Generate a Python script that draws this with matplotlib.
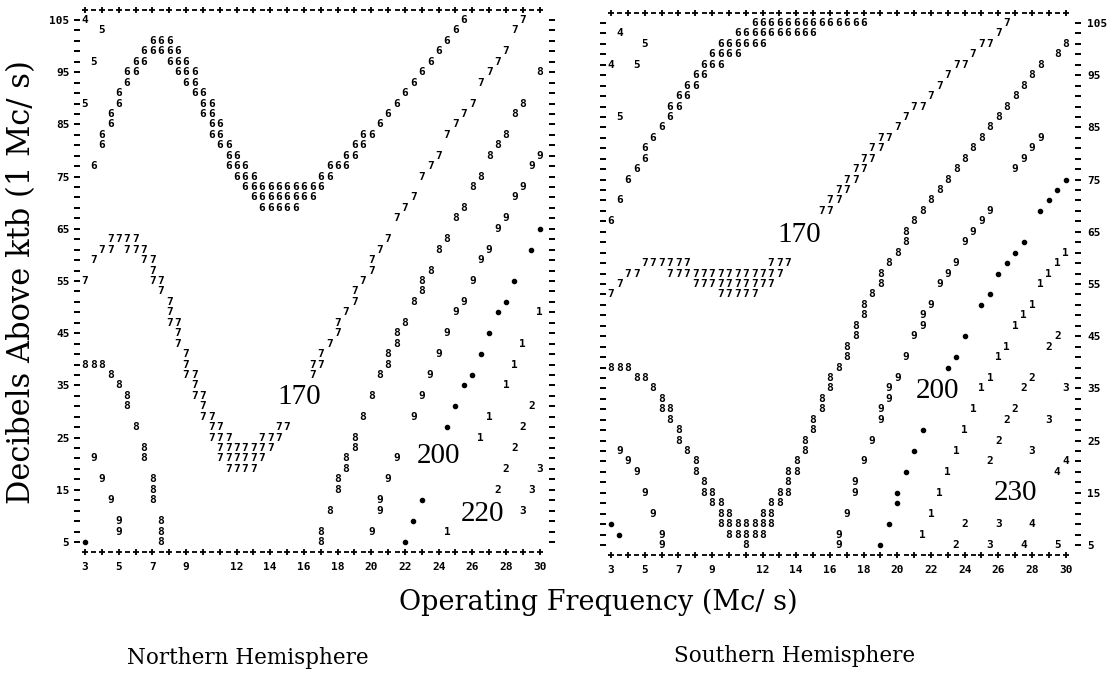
import matplotlib.pyplot as plt

# ---- values: (frequency Mc/s, dB above ktb) ----

# Northern Hemisphere
north_4 = [(3.0, 105)]
north_5 = [(4.0, 103), (3.5, 97), (3.0, 89)]
north_6 = [(3.5, 77), (4.0, 81), (4.0, 83), (4.5, 85), (4.5, 87), (5.0, 89), (5.0, 91),
           (5.5, 93), (5.5, 95), (6.0, 95), (6.0, 97), (6.5, 97),
           (6.5, 99), (7.0, 99), (7.5, 99), (8.0, 99), (8.5, 99), (7.0, 101), (7.5, 101), (8.0, 101),
           (8.0, 97), (8.5, 97), (9.0, 97), (8.5, 95), (9.0, 95), (9.5, 95), (9.0, 93), (9.5, 93),
           (9.5, 91), (10.0, 91), (10.0, 89), (10.5, 89), (10.0, 87), (10.5, 87), (10.5, 85), (11.0, 85),
           (10.5, 83), (11.0, 83), (11.0, 81), (11.5, 81), (11.5, 79), (12.0, 79),
           (11.5, 77), (12.0, 77), (12.5, 77), (12.0, 75), (12.5, 75), (13.0, 75),
           (12.5, 73), (13.0, 73), (13.5, 73), (14.0, 73), (14.5, 73), (15.0, 73), (15.5, 73),
           (16.0, 73), (16.5, 73), (17.0, 73),
           (13.0, 71), (13.5, 71), (14.0, 71), (14.5, 71), (15.0, 71), (15.5, 71), (16.0, 71), (16.5, 71),
           (13.5, 69), (14.0, 69), (14.5, 69), (15.0, 69), (15.5, 69),
           (17.0, 75), (17.5, 75), (17.5, 77), (18.0, 77), (18.5, 77), (18.5, 79), (19.0, 79),
           (19.0, 81), (19.5, 81), (19.5, 83), (20.0, 83), (20.5, 85), (21.0, 87), (21.5, 89),
           (22.0, 91), (22.5, 93), (23.0, 95), (23.5, 97), (24.0, 99), (24.5, 101), (25.0, 103), (25.5, 105)]
north_7 = [(4.5, 63), (5.0, 63), (5.5, 63), (6.0, 63), (4.0, 61), (4.5, 61), (5.5, 61), (6.0, 61),
           (6.5, 61), (3.5, 59), (6.5, 59), (7.0, 59), (7.0, 57), (3.0, 55), (7.0, 55), (7.5, 55),
           (7.5, 53), (8.0, 51), (8.0, 49), (8.0, 47), (8.5, 47), (8.5, 45), (8.5, 43), (9.0, 41),
           (9.0, 39), (9.0, 37), (9.5, 37), (9.5, 35), (9.5, 33), (10.0, 33), (10.0, 31), (10.0, 29),
           (10.5, 29), (10.5, 27), (11.0, 27),
           (10.5, 25), (11.0, 25), (11.5, 25), (13.5, 25), (14.0, 25), (14.5, 25),
           (11.0, 23), (11.5, 23), (12.0, 23), (12.5, 23), (13.0, 23), (13.5, 23), (14.0, 23),
           (11.0, 21), (11.5, 21), (12.0, 21), (12.5, 21), (13.0, 21), (13.5, 21),
           (11.5, 19), (12.0, 19), (12.5, 19), (13.0, 19),
           (14.5, 27), (15.0, 27), (16.5, 37), (16.5, 39), (17.0, 39), (17.0, 41), (17.5, 43),
           (18.0, 45), (18.0, 47), (18.5, 49), (19.0, 51), (19.0, 53), (19.5, 55), (20.0, 57),
           (20.0, 59), (20.5, 61), (21.0, 63), (21.5, 67), (22.0, 69), (22.5, 71), (23.0, 75),
           (23.5, 77), (24.0, 79), (24.5, 83), (25.0, 85), (25.5, 87), (26.0, 89), (26.5, 93),
           (27.0, 95), (27.5, 97), (28.0, 99), (28.5, 103), (29.0, 105)]
north_8 = [(3.0, 39), (3.5, 39), (4.0, 39), (4.5, 37), (5.0, 35), (5.5, 33), (5.5, 31), (6.0, 27),
           (6.5, 23), (6.5, 21), (7.0, 17), (7.0, 15), (7.0, 13), (7.5, 9), (7.5, 7), (7.5, 5),
           (30.0, 95), (29.0, 89), (28.5, 87), (28.0, 83), (27.5, 81), (27.0, 79), (26.5, 75),
           (26.0, 73), (25.5, 69), (25.0, 67), (24.5, 63), (24.0, 61), (23.5, 57), (23.0, 55),
           (23.0, 53), (22.5, 51), (22.0, 47), (21.5, 45), (21.5, 43), (21.0, 41), (21.0, 39),
           (20.5, 37), (20.0, 33), (19.5, 29), (19.0, 25), (19.0, 23), (18.5, 21), (18.5, 19),
           (18.0, 17), (18.0, 15), (17.5, 11), (17.0, 7), (17.0, 5)]
north_9 = [(3.5, 21), (4.0, 17), (4.5, 13), (5.0, 9), (5.0, 7),
           (30.0, 79), (29.5, 77), (29.0, 73), (28.5, 71), (28.0, 67), (27.5, 65), (27.0, 61),
           (26.5, 59), (26.0, 55), (25.5, 51), (25.0, 49), (24.5, 45), (24.0, 41), (23.5, 37),
           (23.0, 33), (22.5, 29), (21.5, 21), (21.0, 17), (20.5, 13), (20.5, 11), (20.0, 7)]
north_dot = [(3.0, 5), (30.0, 65), (29.5, 61), (28.5, 55), (28.0, 51), (27.5, 49), (27.0, 45),
             (26.5, 41), (26.0, 37), (25.5, 35), (25.0, 31), (24.5, 27), (23.0, 13), (22.5, 9), (22.0, 5)]
north_1 = [(30.0, 49), (29.0, 43), (28.5, 39), (28.0, 35), (27.0, 29), (26.5, 25), (24.5, 7)]
north_2 = [(29.5, 31), (29.0, 27), (28.5, 23), (28.0, 19), (27.5, 15)]
north_3 = [(30.0, 19), (29.5, 15), (29.0, 11)]
north_labels = [("170", 15.7, 32.8), ("200", 24.0, 21.5), ("220", 26.6, 10.4)]

# Southern Hemisphere
south_4 = [(3.5, 103), (3.0, 97), (30.0, 21), (29.5, 19), (28.0, 9), (27.5, 5)]
south_5 = [(5.0, 101), (4.5, 97), (3.5, 87), (29.5, 5)]
south_6 = [(3.0, 67), (3.5, 71), (4.0, 75), (4.5, 77), (5.0, 79), (5.0, 81), (5.5, 83), (6.0, 85),
           (6.5, 87), (6.5, 89), (7.0, 89), (7.0, 91), (7.5, 91), (7.5, 93), (8.0, 93), (8.0, 95),
           (8.5, 95), (8.5, 97), (9.0, 97), (9.5, 97), (9.0, 99), (9.5, 99), (10.0, 99), (10.5, 99),
           (9.5, 101), (10.0, 101), (10.5, 101), (11.0, 101), (11.5, 101), (12.0, 101),
           (10.5, 103), (11.0, 103), (11.5, 103), (12.0, 103), (12.5, 103), (13.0, 103), (13.5, 103),
           (14.0, 103), (14.5, 103), (15.0, 103),
           (11.5, 105), (12.0, 105), (12.5, 105), (13.0, 105), (13.5, 105), (14.0, 105), (14.5, 105),
           (15.0, 105), (15.5, 105), (16.0, 105), (16.5, 105), (17.0, 105), (17.5, 105), (18.0, 105)]
south_7 = [(3.0, 53), (3.5, 55), (4.0, 57), (4.5, 57),
           (5.0, 59), (5.5, 59), (6.0, 59), (6.5, 59), (7.0, 59), (7.5, 59),
           (6.5, 57), (7.0, 57), (7.5, 57), (8.0, 57), (8.5, 57), (9.0, 57), (9.5, 57), (10.0, 57),
           (10.5, 57), (11.0, 57), (11.5, 57), (12.0, 57), (12.5, 57), (13.0, 57),
           (8.0, 55), (8.5, 55), (9.0, 55), (9.5, 55), (10.0, 55), (10.5, 55), (11.0, 55), (11.5, 55),
           (12.0, 55), (12.5, 55),
           (9.5, 53), (10.0, 53), (10.5, 53), (11.0, 53), (11.5, 53),
           (12.5, 59), (13.0, 59), (13.5, 59),
           (15.5, 69), (16.0, 69), (16.0, 71), (16.5, 71), (16.5, 73), (17.0, 73), (17.0, 75), (17.5, 75),
           (17.5, 77), (18.0, 77), (18.0, 79), (18.5, 79), (18.5, 81), (19.0, 81), (19.0, 83), (19.5, 83),
           (20.0, 85), (20.5, 87), (21.0, 89), (21.5, 89), (22.0, 91), (22.5, 93), (23.0, 95),
           (23.5, 97), (24.0, 97), (24.5, 99), (25.0, 101), (25.5, 101), (26.0, 103), (26.5, 105)]
south_8 = [(3.0, 39), (3.5, 39), (4.0, 39), (4.5, 37), (5.0, 37), (5.5, 35), (6.0, 33), (6.0, 31),
           (6.5, 31), (6.5, 29), (7.0, 27), (7.0, 25), (7.5, 23), (8.0, 21), (8.0, 19), (8.5, 17),
           (8.5, 15), (9.0, 15), (9.0, 13), (9.5, 13), (9.5, 11), (10.0, 11),
           (9.5, 9), (10.0, 9), (10.5, 9), (11.0, 9), (11.5, 9), (12.0, 9), (12.5, 9),
           (10.0, 7), (10.5, 7), (11.0, 7), (11.5, 7), (12.0, 7), (11.0, 5),
           (12.0, 11), (12.5, 11), (12.5, 13), (13.0, 13), (13.0, 15), (13.5, 15), (13.5, 17),
           (13.5, 19), (14.0, 19), (14.0, 21), (14.5, 23), (14.5, 25), (15.0, 27), (15.0, 29),
           (15.5, 31), (15.5, 33), (16.0, 35), (16.0, 37), (16.5, 39), (17.0, 41), (17.0, 43),
           (17.5, 45), (17.5, 47), (18.0, 49), (18.0, 51), (18.5, 53), (19.0, 55), (19.0, 57),
           (19.5, 59), (20.0, 61), (20.5, 63), (20.5, 65), (21.0, 67), (21.5, 69), (22.0, 71),
           (22.5, 73), (23.0, 75), (23.5, 77), (24.0, 79), (24.5, 81), (25.0, 83), (25.5, 85),
           (26.0, 87), (26.5, 89), (27.0, 91), (27.5, 93), (28.0, 95), (28.5, 97), (29.5, 99), (30.0, 101)]
south_9 = [(3.5, 23), (4.0, 21), (4.5, 19), (5.0, 15), (5.5, 11), (6.0, 7), (6.0, 5),
           (16.5, 5), (16.5, 7), (17.0, 11), (17.5, 15), (17.5, 17), (18.0, 21), (18.5, 25),
           (19.0, 29), (19.0, 31), (19.5, 33), (19.5, 35), (20.0, 37), (20.5, 41), (21.0, 45),
           (21.5, 47), (21.5, 49), (22.0, 51), (22.5, 55), (23.0, 57), (23.5, 59), (24.0, 63),
           (24.5, 65), (25.0, 67), (25.5, 69), (27.0, 77), (27.5, 79), (28.0, 81), (28.5, 83)]
south_dot = [(3.0, 9), (3.5, 7), (19.0, 5), (19.5, 9), (20.0, 13), (20.0, 15), (20.5, 19), (21.0, 23),
             (21.5, 27), (23.0, 39), (23.5, 41), (24.0, 45), (25.0, 51), (25.5, 53), (26.0, 57),
             (26.5, 59), (27.0, 61), (27.5, 63), (28.5, 69), (29.0, 71), (29.5, 73), (30.0, 75)]
south_1 = [(30.0, 61), (29.5, 59), (29.0, 57), (28.5, 55), (28.0, 51), (27.5, 49), (27.0, 47),
           (26.5, 43), (26.0, 41), (25.5, 37), (25.0, 35), (24.5, 31), (24.0, 27), (23.5, 23),
           (23.0, 19), (22.5, 15), (22.0, 11), (21.5, 7)]
south_2 = [(29.5, 45), (29.0, 43), (28.0, 37), (27.5, 35), (27.0, 31), (26.5, 29), (26.0, 25),
           (25.5, 21), (24.0, 9), (23.5, 5)]
south_3 = [(30.0, 35), (29.0, 29), (28.0, 23), (26.0, 9), (25.5, 5)]
south_labels = [("170", 14.2, 64.4), ("200", 22.4, 34.5), ("230", 27.0, 15.0)]

x_tick_labels = [3, 5, 7, 9, 12, 14, 16, 18, 20, 22, 24, 26, 28, 30]
y_tick_labels = [5, 15, 25, 35, 45, 55, 65, 75, 85, 95, 105]

# ---- layout (pixels of the 1118x677 image) ----
W, H = 1118, 677
PX_MHZ = 16.84
PX_DB = 5.22
XLIM = (2.2, 31.1)
YLIM = (1.5, 108.5)
mono = dict(family="DejaVu Sans Mono", weight="bold", color="black")

fig = plt.figure(figsize=(W / 100, H / 100), dpi=100)


def make_axes(x3_px, y105_px):
    left = x3_px + (XLIM[0] - 3) * PX_MHZ
    right = x3_px + (XLIM[1] - 3) * PX_MHZ
    top = y105_px - (YLIM[1] - 105) * PX_DB
    bottom = y105_px + (105 - YLIM[0]) * PX_DB
    ax = fig.add_axes([left / W, 1 - bottom / H, (right - left) / W, (bottom - top) / H])
    ax.set_xlim(XLIM)
    ax.set_ylim(YLIM)
    for s in ax.spines.values():
        s.set_visible(False)
    ax.patch.set_visible(False)
    return ax


def draw_panel(ax, marks, dots, labels, side):
    # printed frame: +-+-+ rows and dash columns
    ints = list(range(3, 31))
    halves = [v + 0.5 for v in range(3, 30)]
    for yv in (107, 3):
        ax.plot(ints, [yv] * len(ints), "+", ms=4.8, mew=1.3, color="k", clip_on=False)
        ax.plot(halves, [yv] * len(halves), "_", ms=3.6, mew=1.3, color="k", clip_on=False)
    rows = list(range(5, 106, 2))
    for xv in (2.5, 30.75):
        ax.plot([xv] * len(rows), rows, "_", ms=3.8, mew=1.4, color="k", clip_on=False)

    for ch, pts in marks:
        for f, db in pts:
            ax.text(f, db, ch, ha="center", va="center", fontsize=8, clip_on=False, **mono)
    ax.plot([p[0] for p in dots], [p[1] for p in dots], "o", ms=3.0, color="k",
            ls="none", clip_on=False)
    for txt, f, db in labels:
        ax.text(f, db, txt, ha="center", va="center", fontsize=21,
                family="Liberation Serif", color="black")

    ax.set_xticks(x_tick_labels, [str(v) for v in x_tick_labels])
    ax.set_yticks(y_tick_labels, [str(v) for v in y_tick_labels])
    ax.tick_params(axis="x", length=0, pad=1)
    ax.tick_params(axis="y", length=0, pad=1.5)
    if side == "right":
        ax.yaxis.tick_right()
        ax.tick_params(axis="y", length=0, pad=2)
    for lab in ax.get_xticklabels() + ax.get_yticklabels():
        lab.set_fontfamily("DejaVu Sans Mono")
        lab.set_fontweight("bold")
        lab.set_fontsize(8)


ax_n = make_axes(85, 20)
draw_panel(ax_n, [("4", north_4), ("5", north_5), ("6", north_6), ("7", north_7), ("8", north_8),
                  ("9", north_9), ("1", north_1), ("2", north_2), ("3", north_3)],
           north_dot, north_labels, "left")

ax_s = make_axes(611, 23)
draw_panel(ax_s, [("4", south_4), ("5", south_5), ("6", south_6), ("7", south_7), ("8", south_8),
                  ("9", south_9), ("1", south_1), ("2", south_2), ("3", south_3)],
           south_dot, south_labels, "right")

serif = dict(family="DejaVu Serif", color="black")
fig.text(598 / W, 1 - 602 / H, "Operating Frequency (Mc/ s)", ha="center", va="center",
         fontsize=19.5, **serif)
fig.text(248 / W, 1 - 658 / H, "Northern Hemisphere", ha="center", va="center", fontsize=15.5, **serif)
fig.text(795 / W, 1 - 656 / H, "Southern Hemisphere", ha="center", va="center", fontsize=15.5, **serif)
fig.text(22 / W, 1 - 282 / H, "Decibels Above ktb (1 Mc/ s)", ha="center", va="center",
         rotation=90, fontsize=22, **serif)

fig.savefig("out.png", dpi=100)
